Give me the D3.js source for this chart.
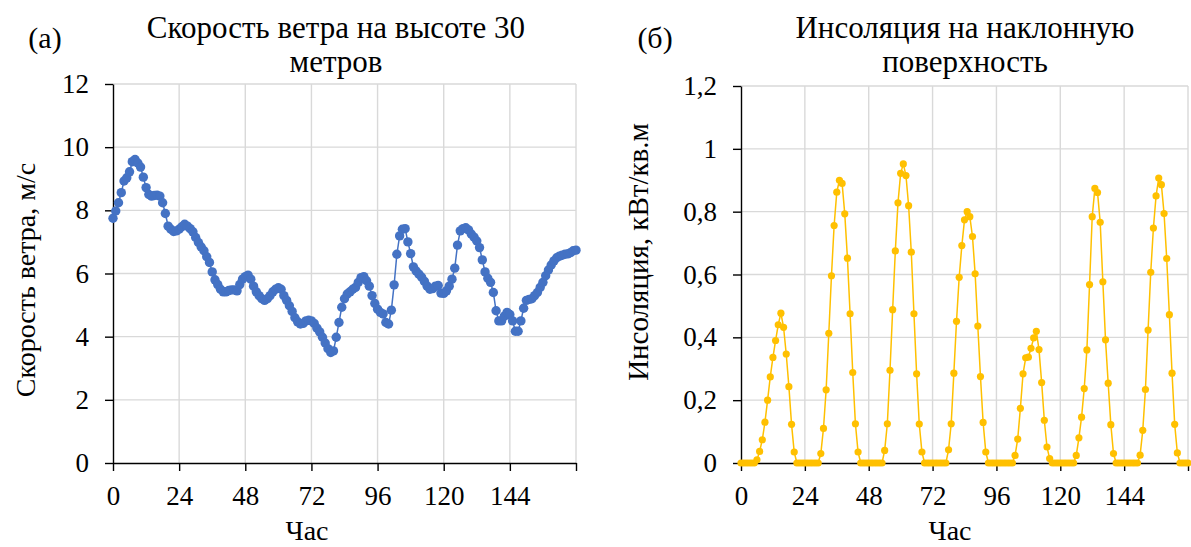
<!DOCTYPE html>
<html>
<head>
<meta charset="utf-8">
<script src="https://cdn.jsdelivr.net/npm/d3@7"></script>
<style>
  body { margin: 0; background: #fff; }
  svg, svg text { font-family: 'Liberation Serif', 'Times New Roman', 'DejaVu Serif', serif !important; }
</style>
</head>
<body>
<div id="chart"></div>
<script>
// hour ticks shared by both panels
const hourTicks = [0, 24, 48, 72, 96, 120, 144, 168];
const windTicks = [0, 2, 4, 6, 8, 10, 12];
const solarTicks = [0, 0.2, 0.4, 0.6, 0.8, 1, 1.2];

// wind speed at 30 m, m/s, hours 0..168
const windSpeed = [
  7.75, 7.98, 8.24, 8.56, 8.93, 9.03, 9.22, 9.54, 9.61, 9.5,
  9.37, 9.05, 8.72, 8.5, 8.45, 8.47, 8.48, 8.45, 8.24, 7.9,
  7.5, 7.4, 7.33, 7.35, 7.4, 7.48, 7.56, 7.5, 7.42, 7.32,
  7.14, 6.98, 6.84, 6.72, 6.53, 6.35, 6.05, 5.8, 5.65, 5.5,
  5.42, 5.42, 5.46, 5.48, 5.48, 5.45, 5.65, 5.82, 5.9, 5.95,
  5.82, 5.6, 5.42, 5.3, 5.2, 5.15, 5.2, 5.3, 5.42, 5.5,
  5.55, 5.5, 5.3, 5.15, 4.98, 4.8, 4.6, 4.47, 4.4, 4.42,
  4.5, 4.52, 4.5, 4.42, 4.27, 4.15, 3.98, 3.8, 3.62, 3.5,
  3.55, 3.98, 4.45, 4.93, 5.2, 5.35, 5.42, 5.5, 5.56, 5.72,
  5.87, 5.9, 5.77, 5.6, 5.3, 5.05, 4.87, 4.77, 4.72, 4.45,
  4.4, 4.84, 5.64, 6.61, 7.19, 7.4, 7.42, 7.0, 6.63, 6.21,
  6.08, 5.98, 5.88, 5.75, 5.6, 5.5, 5.52, 5.6, 5.62, 5.38,
  5.37, 5.45, 5.6, 5.82, 6.17, 6.9, 7.35, 7.42, 7.45, 7.38,
  7.25, 7.15, 7.03, 6.82, 6.43, 6.05, 5.85, 5.72, 5.4, 4.82,
  4.5, 4.5, 4.65, 4.77, 4.7, 4.5, 4.17, 4.17, 4.5, 4.9,
  5.15, 5.18, 5.2, 5.3, 5.4, 5.56, 5.72, 5.93, 6.11, 6.27,
  6.4, 6.5, 6.55, 6.58, 6.61, 6.62, 6.66, 6.72, 6.74
];

// insolation on tilted surface, kW/m2, hours 0..168
const insolation = [
  0, 0, 0, 0, 0, 0, 0.01, 0.037, 0.074, 0.13,
  0.2, 0.274, 0.336, 0.39, 0.44, 0.477, 0.432, 0.347, 0.243, 0.123,
  0.035, 0, 0, 0, 0, 0, 0, 0, 0, 0,
  0.03, 0.11, 0.233, 0.413, 0.596, 0.756, 0.862, 0.9, 0.89, 0.793,
  0.652, 0.475, 0.288, 0.125, 0.035, 0, 0, 0, 0, 0,
  0, 0, 0, 0, 0.04, 0.125, 0.295, 0.488, 0.675, 0.828,
  0.922, 0.952, 0.915, 0.819, 0.671, 0.475, 0.284, 0.124, 0.035, 0,
  0, 0, 0, 0, 0, 0, 0, 0, 0.042, 0.125,
  0.286, 0.451, 0.591, 0.692, 0.774, 0.8, 0.784, 0.721, 0.602, 0.436,
  0.275, 0.129, 0.035, 0, 0, 0, 0, 0, 0, 0,
  0, 0, 0, 0.024, 0.076, 0.174, 0.284, 0.335, 0.337, 0.365,
  0.398, 0.419, 0.361, 0.256, 0.136, 0.051, 0.014, 0, 0, 0,
  0, 0, 0, 0, 0, 0, 0.024, 0.08, 0.146, 0.237,
  0.36, 0.568, 0.784, 0.874, 0.861, 0.766, 0.577, 0.392, 0.254, 0.122,
  0.03, 0, 0, 0, 0, 0, 0, 0, 0, 0,
  0.025, 0.104, 0.234, 0.423, 0.607, 0.748, 0.85, 0.907, 0.886, 0.794,
  0.651, 0.472, 0.286, 0.123, 0.032, 0, 0, 0, 0
];

const width = 1191;
const height = 547;
const serif = "'Liberation Serif', 'Times New Roman', 'DejaVu Serif', serif";

const svg = d3
  .select('#chart')
  .append('svg')
  .attr('width', width)
  .attr('height', height)
  .attr('font-family', serif)
  .style('background', 'white');

const panels = [
  {
    tag: '(а)',
    title: ['Скорость ветра на высоте 30', 'метров'],
    yLabel: 'Скорость ветра, м/с',
    values: windSpeed,
    yMax: 12,
    yTicks: windTicks,
    left: 113, right: 576, top: 84, bottom: 463,
    color: '#4472C4',
    radius: 4.7,
    tagX: 45, titleX: 336, yLabelX: 25, yLabelY: 280, yLabelSize: 28, xLabelX: 307
  },
  {
    tag: '(б)',
    title: ['Инсоляция на наклонную', 'поверхность'],
    yLabel: 'Инсоляция, кВт/кв.м',
    values: insolation,
    yMax: 1.2,
    yTicks: solarTicks,
    left: 741, right: 1188, top: 86, bottom: 463,
    color: '#FFC000',
    radius: 3.6,
    tagX: 655, titleX: 965, yLabelX: 638, yLabelY: 252, yLabelSize: 29, xLabelX: 950
  }
];

const fmt = d3.formatLocale({ decimal: ',', thousands: ' ', grouping: [3], currency: ['', ''] }).format('~g');

panels.forEach((p) => {
  const x = d3.scaleLinear().domain([0, 168]).range([p.left, p.right]);
  const y = d3.scaleLinear().domain([0, p.yMax]).range([p.bottom, p.top]);

  const g = svg.append('g');

  // grid
  g.append('g')
    .selectAll('line')
    .data(hourTicks.slice(1))
    .enter()
    .append('line')
    .attr('x1', (d) => x(d))
    .attr('x2', (d) => x(d))
    .attr('y1', p.top)
    .attr('y2', p.bottom)
    .attr('stroke', '#d9d9d9')
    .attr('stroke-width', 1.4);

  g.append('g')
    .selectAll('line')
    .data(p.yTicks.slice(1))
    .enter()
    .append('line')
    .attr('x1', p.left)
    .attr('x2', p.right)
    .attr('y1', (d) => y(d))
    .attr('y2', (d) => y(d))
    .attr('stroke', '#d9d9d9')
    .attr('stroke-width', 1.4);

  // axes
  const xAxis = g
    .append('g')
    .attr('transform', 'translate(0,' + p.bottom + ')')
    .call(
      d3.axisBottom(x)
        .tickValues(hourTicks)
        .tickFormat((d) => (d === 168 ? '' : d))
        .tickSize(8)
        .tickSizeOuter(0)
        .tickPadding(15)
    );

  const yAxis = g
    .append('g')
    .attr('transform', 'translate(' + p.left + ',0)')
    .call(
      d3.axisLeft(y)
        .tickValues(p.yTicks)
        .tickFormat(fmt)
        .tickSize(8)
        .tickSizeOuter(0)
        .tickPadding(16)
    );

  [xAxis, yAxis].forEach((a) => {
    a.attr('font-family', serif).attr('font-size', 27);
    a.select('.domain').attr('stroke', '#000').attr('stroke-width', 1.4);
    a.selectAll('.tick line').attr('stroke', '#000').attr('stroke-width', 1.4);
    a.selectAll('text')
      .attr('font-family', serif)
      .attr('font-size', 27)
      .attr('fill', '#000');
  });

  // series
  const line = d3
    .line()
    .x((d, i) => x(i))
    .y((d) => y(d));

  g.append('path')
    .datum(p.values)
    .attr('d', line)
    .attr('fill', 'none')
    .attr('stroke', p.color)
    .attr('stroke-width', 1.5);

  g.append('g')
    .selectAll('circle')
    .data(p.values)
    .enter()
    .append('circle')
    .attr('cx', (d, i) => x(i))
    .attr('cy', (d) => y(d))
    .attr('r', p.radius)
    .attr('fill', p.color);

  // titles
  g.append('text')
    .attr('x', p.tagX)
    .attr('y', 48)
    .attr('text-anchor', 'middle')
    .attr('font-size', 30)
    .text(p.tag);

  p.title.forEach((t, i) => {
    g.append('text')
      .attr('x', p.titleX)
      .attr('y', 38 + i * 34)
      .attr('text-anchor', 'middle')
      .attr('font-size', 31)
      .text(t);
  });

  g.append('text')
    .attr('transform', 'translate(' + p.yLabelX + ',' + p.yLabelY + ') rotate(-90)')
    .attr('text-anchor', 'middle')
    .attr('dy', '0.35em')
    .attr('font-size', p.yLabelSize)
    .text(p.yLabel);

  g.append('text')
    .attr('x', p.xLabelX)
    .attr('y', 540)
    .attr('text-anchor', 'middle')
    .attr('font-size', 28)
    .text('Час');
});
</script>
</body>
</html>
